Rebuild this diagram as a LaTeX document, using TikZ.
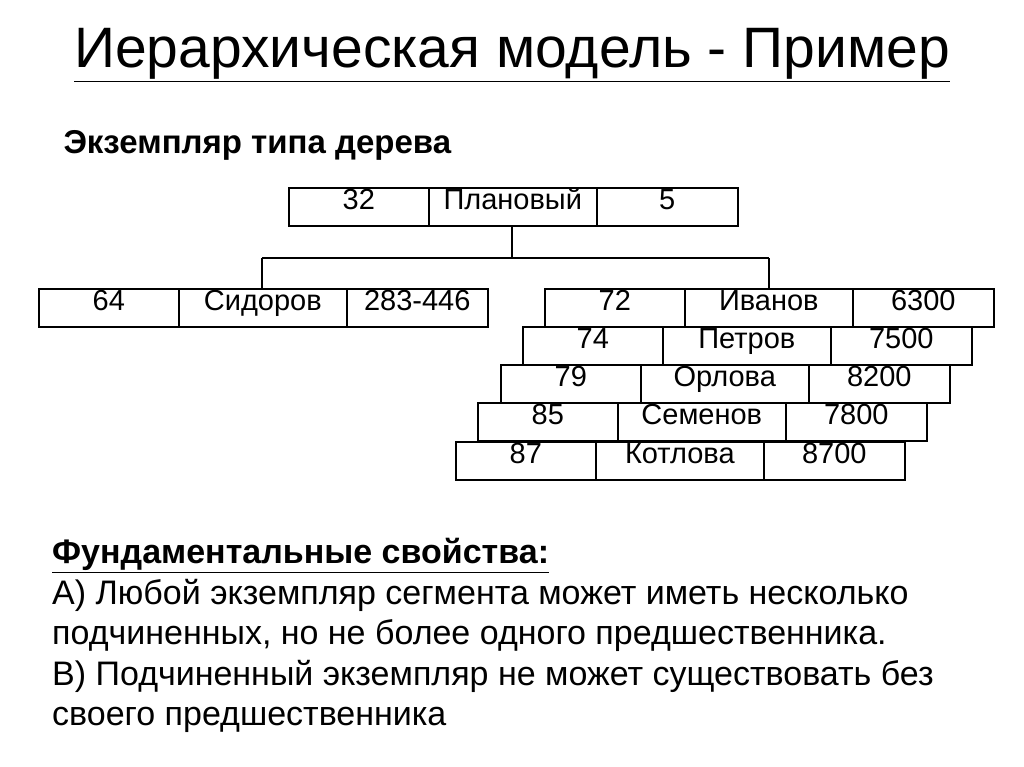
\documentclass[tikz,border=0pt]{standalone}
\usepackage{fontspec}
\setmainfont{Liberation Sans}
\begin{document}
\begin{tikzpicture}[x=1pt,y=-1pt,
  cell/.style={draw,line width=1.6pt,fill=white,minimum height=38pt,inner sep=0pt,text height=0.72em,text depth=0.1em,font=\fontsize{29}{33}\selectfont},
  ln/.style={line width=1.4pt}]
\useasboundingbox (0,0) rectangle (1024,767);
\node (title) at (512,55) {\fontsize{57}{64}\selectfont\underline{Иерархическая модель - Пример}};
\node[anchor=west] (sub) at (60,145) {\fontsize{33}{38}\selectfont\bfseries Экземпляр типа дерева};
\newcommand\rec[6]{%
  \node[cell,minimum width=140pt,anchor=north west] (#1a) at (#2,#3) {#4};
  \node[cell,minimum width=168pt,anchor=north west] (#1b) at (#2+140,#3) {#5};
  \node[cell,minimum width=141pt,anchor=north west] (#1c) at (#2+308,#3) {#6};}
\rec{t}{288}{187}{32}{Плановый}{5}
\rec{l}{38}{288}{64}{Сидоров}{283-446}
\rec{r}{544}{288}{72}{Иванов}{6300}
\rec{s}{522}{326}{74}{Петров}{7500}
\rec{o}{500}{364}{79}{Орлова}{8200}
\rec{m}{477}{402}{85}{Семенов}{7800}
\rec{k}{455}{441}{87}{Котлова}{8700}
\coordinate (j) at (512,258);
\draw[ln] (tb.south -| j) -- (j);
\draw[ln] (262,258) -- (769,258);
\draw[ln] (262,258) -- (lb.north -| 262,0);
\draw[ln] (769,258) -- (rb.north -| 769,0);
\node[anchor=north west,align=left,font=\fontsize{34}{40.5}\selectfont,inner sep=0pt] (txt) at (52,538)
{\textbf{\underline{Фундаментальные свойства:}}\\
А) Любой экземпляр сегмента может иметь несколько\\
подчиненных, но не более одного предшественника.\\
В) Подчиненный экземпляр не может существовать без\\
своего предшественника};
\end{tikzpicture}
\end{document}
